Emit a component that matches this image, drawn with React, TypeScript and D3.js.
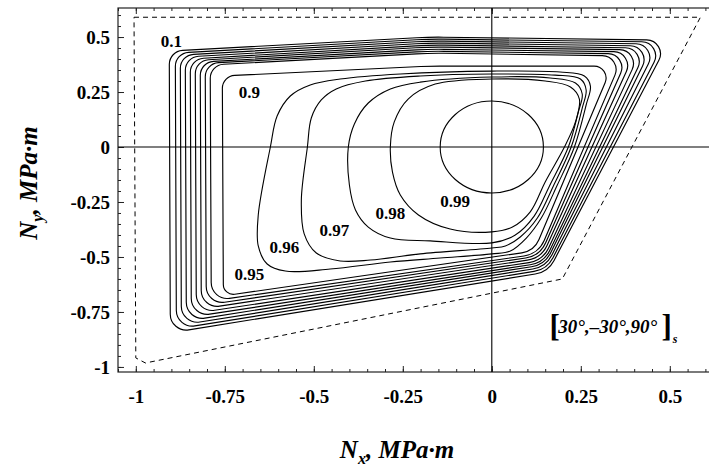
import * as d3 from "d3";
import { useEffect, useRef } from "react";

const xTicks = [-1, -0.75, -0.5, -0.25, 0, 0.25, 0.5];
const xTickLabels = ["-1", "-0.75", "-0.5", "-0.25", "0", "0.25", "0.5"];
const yTicks = [-1, -0.75, -0.5, -0.25, 0, 0.25, 0.5];
const yTickLabels = ["-1", "-0.75", "-0.5", "-0.25", "0", "0.25", "0.5"];

// dashed boundary of the admissible region (Nx, Ny)
const boundary: [number, number][] = [
  [-1.005, 0.59],
  [0.586, 0.59],
  [0.198, -0.6],
  [-0.973, -0.982],
  [-1.0, -0.959],
];

// outer contour family: corners top-left, top, top-right, bottom-right, bottom-left
const bandLevels = [0.1, 0.2, 0.3, 0.4, 0.5, 0.6, 0.7, 0.8, 0.85, 0.9];
const bandCorners: [number, number][][] = [
  [[-0.906, 0.436], [-0.173, 0.5], [0.499, 0.486], [0.158, -0.568], [-0.903, -0.845]],
  [[-0.889, 0.427], [-0.173, 0.491], [0.485, 0.477], [0.155, -0.556], [-0.886, -0.827]],
  [[-0.875, 0.418], [-0.173, 0.482], [0.468, 0.468], [0.152, -0.545], [-0.872, -0.809]],
  [[-0.861, 0.409], [-0.173, 0.473], [0.451, 0.459], [0.149, -0.535], [-0.858, -0.791]],
  [[-0.847, 0.4], [-0.173, 0.464], [0.437, 0.45], [0.146, -0.526], [-0.844, -0.773]],
  [[-0.833, 0.393], [-0.173, 0.455], [0.42, 0.441], [0.143, -0.516], [-0.83, -0.755]],
  [[-0.819, 0.386], [-0.173, 0.445], [0.403, 0.432], [0.139, -0.505], [-0.816, -0.736]],
  [[-0.805, 0.38], [-0.173, 0.436], [0.386, 0.423], [0.135, -0.495], [-0.802, -0.718]],
  [[-0.791, 0.373], [-0.173, 0.427], [0.369, 0.414], [0.131, -0.486], [-0.788, -0.7]],
  [[-0.757, 0.323], [-0.173, 0.368], [0.338, 0.368], [0.119, -0.473], [-0.754, -0.677]],
];

// inner contours
const innerLevels = [0.95, 0.96, 0.97, 0.98];
const innerCurves: [number, number][][] = [
  [
    [-0.622, 0], [-0.603, 0.141], [-0.566, 0.232], [-0.51, 0.282], [-0.426, 0.309],
    [-0.257, 0.332], [0, 0.345], [0.192, 0.341], [0.26, 0.323], [0.277, 0.277],
    [0.265, 0.191], [0.232, 0], [0.184, -0.173], [0.139, -0.323], [0.097, -0.414],
    [0.052, -0.473], [0, -0.486], [-0.145, -0.505], [-0.285, -0.523], [-0.454, -0.555],
    [-0.58, -0.564], [-0.631, -0.532], [-0.656, -0.45], [-0.656, -0.309],
  ],
  [
    [-0.518, 0], [-0.507, 0.132], [-0.479, 0.214], [-0.437, 0.264], [-0.355, 0.3],
    [-0.201, 0.323], [0, 0.332], [0.178, 0.327], [0.249, 0.309], [0.265, 0.259],
    [0.254, 0.177], [0.223, 0], [0.173, -0.177], [0.128, -0.323], [0.08, -0.409],
    [0.038, -0.45], [0, -0.459], [-0.201, -0.486], [-0.341, -0.514], [-0.426, -0.518],
    [-0.493, -0.482], [-0.527, -0.395], [-0.535, -0.241],
  ],
  [
    [-0.403, 0], [-0.386, 0.105], [-0.347, 0.2], [-0.285, 0.264], [-0.201, 0.295],
    [0, 0.318], [0.164, 0.314], [0.235, 0.291], [0.254, 0.241], [0.243, 0.159],
    [0.215, 0], [0.162, -0.177], [0.119, -0.314], [0.066, -0.4], [0, -0.436],
    [-0.173, -0.427], [-0.285, -0.414], [-0.347, -0.364], [-0.383, -0.286], [-0.4, -0.173],
  ],
  [
    [-0.285, 0], [-0.274, 0.114], [-0.235, 0.218], [-0.159, 0.286], [0, 0.309],
    [0.15, 0.3], [0.221, 0.273], [0.246, 0.218], [0.235, 0.114], [0.204, 0],
    [0.15, -0.159], [0.108, -0.295], [0.058, -0.364], [0, -0.386], [-0.117, -0.373],
    [-0.206, -0.309], [-0.257, -0.218], [-0.279, -0.114],
  ],
];

// 0.99 contour: ellipse round the origin
const level99 = { cx: 0, cy: 0, rx: 0.145, ry: 0.209 };

const contourLabels = [
  { text: "0.1", x: -0.9, y: 0.482 },
  { text: "0.9", x: -0.681, y: 0.25 },
  { text: "0.95", x: -0.681, y: -0.577 },
  { text: "0.96", x: -0.583, y: -0.455 },
  { text: "0.97", x: -0.442, y: -0.377 },
  { text: "0.98", x: -0.285, y: -0.3 },
  { text: "0.99", x: -0.103, y: -0.245 },
];

const SERIF = "'Liberation Serif', 'Times New Roman', Times, 'DejaVu Serif', serif";

// rounded polygon through corner points (pixel space)
function roundedPath(pts: [number, number][], radii: number[]) {
  const p = d3.path();
  const n = pts.length;
  const last = pts[n - 1];
  const first = pts[0];
  p.moveTo((last[0] + first[0]) / 2, (last[1] + first[1]) / 2);
  pts.forEach((cur, i) => {
    const prev = pts[(i - 1 + n) % n];
    const next = pts[(i + 1) % n];
    const ax = prev[0] - cur[0], ay = prev[1] - cur[1];
    const bx = next[0] - cur[0], by = next[1] - cur[1];
    const la = Math.hypot(ax, ay), lb = Math.hypot(bx, by);
    const cos = (ax * bx + ay * by) / (la * lb);
    const t = Math.tan(Math.acos(Math.max(-1, Math.min(1, cos))) / 2);
    const d = Math.min(radii[i] / t, la / 2, lb / 2);
    p.arcTo(cur[0], cur[1], next[0], next[1], d * t);
  });
  p.closePath();
  return p.toString();
}

export default function App() {
  const svgRef = useRef<SVGSVGElement>(null);

  useEffect(() => {
    if (!svgRef.current) return;
    const svg = d3.select(svgRef.current);
    svg.selectAll("*").remove();

    const left = 118, right = 714.3, top = 8, bottom = 372;
    const x = d3.scaleLinear().domain([-1.05, 0.625]).range([left, right]);
    const y = d3.scaleLinear().domain([-1.023, 0.632]).range([bottom, top]);

    const minorX = d3.range(-21, 13).map((i) => i * 0.05);
    const minorY = d3.range(-20, 13).map((i) => i * 0.05);

    // frame ticks
    const tickGroup = (g: any) => {
      g.select(".domain").remove();
      g.selectAll("line").attr("stroke", "#222").attr("stroke-width", 1);
    };
    svg.append("g").attr("transform", `translate(${left},0)`)
      .call(d3.axisLeft(y).tickValues(minorY).tickSize(-3).tickFormat(() => ""))
      .call(tickGroup);
    svg.append("g").attr("transform", `translate(0,${bottom})`)
      .call(d3.axisBottom(x).tickValues(minorX).tickSize(-3).tickFormat(() => ""))
      .call(tickGroup);
    svg.append("g").attr("transform", `translate(0,${top})`)
      .call(d3.axisTop(x).tickValues(minorX).tickSize(-3).tickFormat(() => ""))
      .call(tickGroup);
    svg.append("g").attr("transform", `translate(0,${top})`)
      .call(d3.axisTop(x).tickValues(xTicks).tickSize(-6).tickFormat(() => ""))
      .call(tickGroup);

    const yAxis = svg.append("g").attr("transform", `translate(${left},0)`)
      .call(d3.axisLeft(y).tickValues(yTicks).tickSize(-6).tickPadding(8)
        .tickFormat((_d, i) => yTickLabels[i]))
      .call(tickGroup);
    const xAxis = svg.append("g").attr("transform", `translate(0,${bottom})`)
      .call(d3.axisBottom(x).tickValues(xTicks).tickSize(-6).tickPadding(18)
        .tickFormat((_d, i) => xTickLabels[i]))
      .call(tickGroup);
    [yAxis, xAxis].forEach((g) => {
      g.attr("font-family", null).attr("font-size", null);
      g.selectAll("text")
        .style("font-family", SERIF)
        .style("font-size", "19px")
        .style("font-weight", "bold")
        .attr("fill", "#000");
    });

    // frame
    svg.append("rect")
      .attr("x", left).attr("y", top)
      .attr("width", right - left).attr("height", bottom - top)
      .attr("fill", "none").attr("stroke", "#222").attr("stroke-width", 1.2);

    // zero axes
    svg.append("line")
      .attr("x1", left).attr("x2", right).attr("y1", y(0)).attr("y2", y(0))
      .attr("stroke", "#000").attr("stroke-width", 1.1);
    svg.append("line")
      .attr("x1", x(0)).attr("x2", x(0)).attr("y1", top).attr("y2", bottom)
      .attr("stroke", "#000").attr("stroke-width", 1.1);

    // dashed boundary
    const line = d3.line<[number, number]>().x((d) => x(d[0])).y((d) => y(d[1]));
    svg.append("path")
      .attr("d", line(boundary) + "Z")
      .attr("fill", "none").attr("stroke", "#000")
      .attr("stroke-width", 1).attr("stroke-dasharray", "5,4");

    // outer contours
    const bandRadii = [14, 400, 14, 26, 16];
    const ninetyRadii = [13, 400, 12, 22, 10];
    svg.append("g").selectAll("path")
      .data(bandCorners)
      .enter().append("path")
      .attr("d", (c, i) => roundedPath(
        c.map((p) => [x(p[0]), y(p[1])] as [number, number]),
        bandLevels[i] === 0.9 ? ninetyRadii : bandRadii))
      .attr("fill", "none").attr("stroke", "#000").attr("stroke-width", 1.15);

    // inner contours
    const smooth = d3.line<[number, number]>()
      .x((d) => x(d[0])).y((d) => y(d[1]))
      .curve(d3.curveCatmullRomClosed.alpha(0.5));
    svg.append("g").selectAll("path")
      .data(innerCurves)
      .enter().append("path")
      .attr("class", (_c, i) => `level-${innerLevels[i]}`)
      .attr("d", (c) => smooth(c))
      .attr("fill", "none").attr("stroke", "#000").attr("stroke-width", 1.1);

    svg.append("ellipse")
      .attr("cx", x(level99.cx)).attr("cy", y(level99.cy))
      .attr("rx", x(level99.rx) - x(0)).attr("ry", y(0) - y(level99.ry))
      .attr("fill", "none").attr("stroke", "#000").attr("stroke-width", 1.1);

    // contour labels
    svg.append("g").selectAll("text")
      .data(contourLabels)
      .enter().append("text")
      .attr("x", (d) => x(d.x)).attr("y", (d) => y(d.y))
      .attr("dy", "0.35em").attr("text-anchor", "middle")
      .style("font-family", SERIF).style("font-size", "17px").style("font-weight", "bold")
      .text((d) => d.text);

    // stacking sequence note
    const note = svg.append("g")
      .style("font-family", SERIF).style("font-weight", "bold").attr("fill", "#000");
    note.append("text").attr("x", x(0.162)).attr("y", y(-0.859))
      .style("font-size", "31px").text("[");
    note.append("text").attr("x", x(0.187)).attr("y", y(-0.845))
      .style("font-size", "19px").style("font-style", "italic").text("30°,–30°,90°");
    note.append("text").attr("x", x(0.477)).attr("y", y(-0.859))
      .style("font-size", "31px").text("]");
    note.append("text").attr("x", x(0.508)).attr("y", y(-0.891))
      .style("font-size", "12px").style("font-style", "italic").text("s");

    // axis titles
    const xTitle = svg.append("text")
      .attr("x", 397).attr("y", 458).attr("text-anchor", "middle")
      .style("font-family", SERIF).style("font-size", "25px")
      .style("font-weight", "bold").style("font-style", "italic");
    xTitle.append("tspan").text("N");
    xTitle.append("tspan").style("font-size", "16px").attr("dy", 6).text("x");
    xTitle.append("tspan").attr("dy", -6).text(", MPa·m");

    const yTitle = svg.append("text")
      .attr("transform", "translate(37,183) rotate(-90)")
      .attr("text-anchor", "middle")
      .style("font-family", SERIF).style("font-size", "25px")
      .style("font-weight", "bold").style("font-style", "italic");
    yTitle.append("tspan").text("N");
    yTitle.append("tspan").style("font-size", "16px").attr("dy", 6).text("y");
    yTitle.append("tspan").attr("dy", -6).text(", MPa·m");
  }, []);

  return (
    <svg
      ref={svgRef}
      width={709}
      height={473}
      style={{ position: "absolute", left: 0, top: 0, background: "#fff" }}
    />
  );
}
